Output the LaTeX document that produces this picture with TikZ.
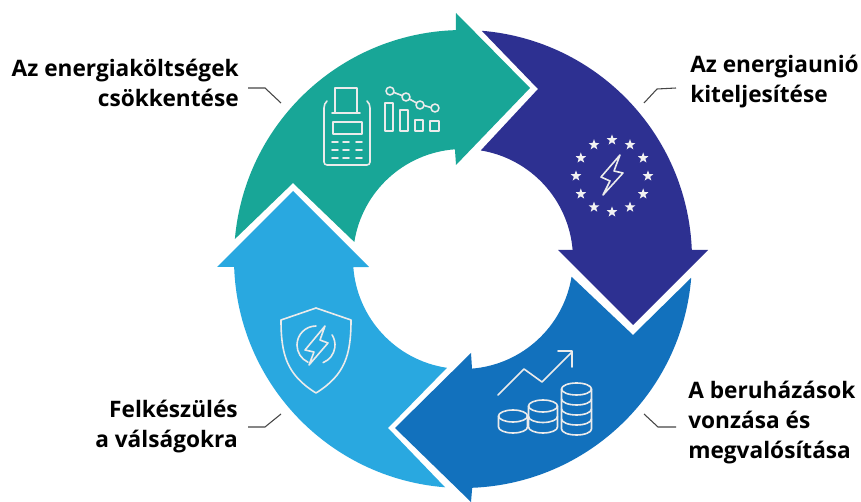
\documentclass[tikz,border=0pt]{standalone}
\usepackage{fontspec}
\usetikzlibrary{calc}
\setmainfont{Open Sans}
\definecolor{cteal}{RGB}{24,166,151}
\definecolor{cdark}{RGB}{45,48,145}
\definecolor{cblue}{RGB}{18,113,189}
\definecolor{clight}{RGB}{41,168,224}
\definecolor{cline}{RGB}{70,70,70}
\tikzset{
  label text/.style={font=\bfseries\fontsize{17}{20}\selectfont,text=black,inner sep=0pt},
  leader/.style={draw=cline,line width=.8pt},
  icon/.style={draw=white!92!black,line width=1.2pt,line join=round,line cap=round},
}
\newcommand{\eustar}[1]{%
  \fill[white!95!black] ($(E)+(#1:36)+(-90:5.6)$)
   -- ($(E)+(#1:36)+(-54:2.3)$) -- ($(E)+(#1:36)+(-18:5.6)$)
   -- ($(E)+(#1:36)+(18:2.3)$) -- ($(E)+(#1:36)+(54:5.6)$)
   -- ($(E)+(#1:36)+(90:2.3)$) -- ($(E)+(#1:36)+(126:5.6)$)
   -- ($(E)+(#1:36)+(162:2.3)$) -- ($(E)+(#1:36)+(198:5.6)$)
   -- ($(E)+(#1:36)+(234:2.3)$) -- cycle;}
\newcommand{\coinstack}[6]{% cx, top y, rx, ry, layers, layer height
  \draw[icon] (#1,#2) ellipse[x radius=#3,y radius=#4];
  \draw[icon] (#1-#3,#2) -- (#1-#3,#2+#5*#6) arc[x radius=#3,y radius=#4,start angle=180,end angle=0] -- (#1+#3,#2);
  \foreach \k in {1,...,#5}{
    \ifnum\k<#5\relax
      \draw[icon] (#1-#3,#2+\k*#6) arc[x radius=#3,y radius=#4,start angle=180,end angle=0];
    \fi}}
\begin{document}
\begin{tikzpicture}[x=.75pt,y=-.75pt]
\useasboundingbox (0,0) rectangle (861,502);
\fill[white] (0,0) rectangle (861,502);
\coordinate (C) at (463,259);
\def\Ro{229}\def\Ri{110}
% arrows (angles run clockwise on screen: the y axis is flipped)
\fill[cteal] ($(C)+(185:\Ro)$) arc[radius=\Ro,start angle=185,end angle=268.2]
  -- (456,13) -- (530,88) -- (456,165) -- ($(C)+(265.8:\Ri)$)
  arc[radius=\Ri,start angle=265.8,end angle=188.9] -- (293,183) -- cycle;
\fill[cdark] ($(C)+(274.7:\Ro)$) arc[radius=\Ro,start angle=274.7,end angle=357.7]
  -- (708,250) -- (633,325) -- (558,250) -- ($(C)+(355.3:\Ri)$)
  arc[radius=\Ri,start angle=355.3,end angle=279.3] -- (538,89) -- cycle;
\fill[cblue] ($(C)+(4.7:\Ro)$) arc[radius=\Ro,start angle=4.7,end angle=87.7]
  -- (471,502) -- (395,428) -- (471,353) -- ($(C)+(85.3:\Ri)$)
  arc[radius=\Ri,start angle=85.3,end angle=9.3] -- (633,335) -- cycle;
\fill[clight] ($(C)+(94.5:\Ro)$) arc[radius=\Ro,start angle=94.5,end angle=178]
  -- (217,267) -- (293,191) -- (369,267) -- ($(C)+(175.8:\Ri)$)
  arc[radius=\Ri,start angle=175.8,end angle=98.4] -- (388,428) -- cycle;
% cash register
\draw[icon] (335,113) -- (335,88) -- (357,88) -- (357,113);
\draw[icon] (332,113) -- (360,113);
\draw[icon] (327,101) .. controls (325,103) and (324,105) .. (324,108) -- (324,162)
  arc[radius=3,start angle=180,end angle=90] -- (367,165)
  arc[radius=3,start angle=90,end angle=0] -- (370,108) .. controls (370,105) and (369,103) .. (367,101);
\draw[icon] (333,122) rectangle (362,134);
\foreach \yy in {142,150,158}{
  \draw[icon] (332,\yy) -- (338,\yy) (343,\yy) -- (349,\yy) (356,\yy) -- (362,\yy);}
% bars and trend
\draw[icon] (385,103) rectangle (393,131);
\draw[icon] (400,110) rectangle (408,131);
\draw[icon] (415,120) rectangle (423,131);
\draw[icon] (430,121) rectangle (439,131);
\draw[icon] (393.7,92.4) -- (402.3,95.6) (409.4,99) -- (416.6,103) (424,105.5) -- (431,107.5);
\foreach \px/\py in {390/91,406/97,420/105,435/108}{\draw[icon] (\px,\py) circle[radius=4];}
% EU stars and bolt
\coordinate (E) at (612,176);
\foreach \a in {0,30,...,330}{\eustar{\a}}
\draw[icon] (620,155) -- (601,177) -- (610,181) -- (603,195) -- (623,173) -- (614,171) -- cycle;
% coin stacks and chart
\draw[icon] (498,395) -- (524,369) -- (542,382) -- (572,352);
\draw[icon] (558,351) -- (572,351) -- (572,367);
\coinstack{513}{416}{14.5}{6}{1}{11}
\coinstack{543}{406}{14.5}{6}{2}{10.5}
\coinstack{576.5}{389}{15}{6}{4}{10}
% shield
\draw[icon] (316,308) -- (281,320) .. controls (281,355) and (287,375) .. (316,393)
  .. controls (345,375) and (351,355) .. (351,320) -- cycle;
\draw[icon] ($(316,345)+(-90:19)$) arc[radius=19,start angle=-90,end angle=-245];
\draw[icon] ($(316,345)+(68:19)$) arc[radius=19,start angle=68,end angle=-32];
\draw[icon] (325,326) -- (305,350) -- (314,352) -- (309,365) -- (328,343) -- (320,340) -- cycle;
% labels
\node[label text,anchor=base east] (t1a) at (239,77) {Az energiaköltségek};
\node[label text,anchor=base east] (t1b) at (239,107) {csökkentése};
\node[label text,anchor=base west] (t2a) at (690,73) {Az energiaunió};
\node[label text,anchor=base west] (t2b) at (690,103) {kiteljesítése};
\node[label text,anchor=base west] (t3a) at (688,399) {A beruházások};
\node[label text,anchor=base west] (t3b) at (688,429) {vonzása és};
\node[label text,anchor=base west] (t3c) at (688,459) {megvalósítása};
\node[label text,anchor=base east] (t4a) at (238,417) {Felkészülés};
\node[label text,anchor=base east] (t4b) at (238,447) {a válságokra};
% leaders
\draw[leader] (248,88) -- (265,88) -- (281,103);
\draw[leader] (676,88) -- (657,89) -- (644,103);
\draw[leader] (676,427) -- (658,427) -- (644,414);
\draw[leader] (248,427) -- (265,427) -- (281,414);
\end{tikzpicture}
\end{document}
